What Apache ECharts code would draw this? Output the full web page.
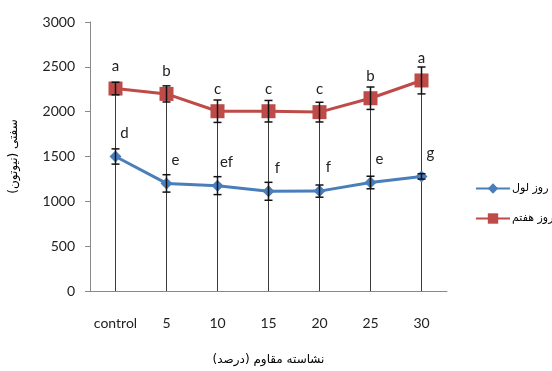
<!DOCTYPE html>
<html>
<head>
<meta charset="utf-8">
<script src="https://cdn.jsdelivr.net/npm/echarts@6/dist/echarts.min.js"></script>
<style>
  html, body { margin: 0; padding: 0; background: #fff; }
  #chart { width: 552px; height: 371px; }
</style>
</head>
<body>
<div id="chart"></div>
<script>
// Starch concentration levels (x axis)
const categories = ['control', '5', '10', '15', '20', '25', '30'];

// Hardness on day 1 (blue) and day 7 (red), with error bar half-widths
const day1Name = 'روز لول';
const day1Values = [1500, 1200, 1175, 1112, 1114, 1210, 1278];
const day1Errors = [85, 97, 100, 100, 68, 70, 30];
const day1Letters = ['d', 'e', 'ef', 'f', 'f', 'e', 'g'];

const day7Name = 'روز هفتم';
const day7Values = [2258, 2198, 2005, 2005, 1995, 2150, 2348];
const day7Errors = [70, 90, 125, 120, 110, 125, 150];
const day7Letters = ['a', 'b', 'c', 'c', 'c', 'b', 'a'];

const yTicks = { min: 0, max: 3000, interval: 500 };

const blue = '#4A7EBB';
const red = '#BE4B48';
const latin = 'Lato, "Liberation Sans", sans-serif';
const persian = '"DejaVu Sans", "Noto Sans", sans-serif';

function errorBarData(values, errors) {
  return values.map((v, i) => [i, v - errors[i], v + errors[i]]);
}

function renderErrorBar(params, api) {
  const x = api.value(0);
  const lo = api.coord([x, api.value(1)]);
  const hi = api.coord([x, api.value(2)]);
  const cap = 4;
  const style = { stroke: '#111', lineWidth: 1.5 };
  return {
    type: 'group',
    children: [
      { type: 'line', shape: { x1: lo[0], y1: lo[1], x2: hi[0], y2: hi[1] }, style },
      { type: 'line', shape: { x1: lo[0] - cap, y1: lo[1], x2: lo[0] + cap, y2: lo[1] }, style },
      { type: 'line', shape: { x1: hi[0] - cap, y1: hi[1], x2: hi[0] + cap, y2: hi[1] }, style }
    ]
  };
}

// Drop lines from each day-7 point down to the category axis
function renderDropLine(params, api) {
  const x = api.value(0);
  const top = api.coord([x, api.value(1)]);
  const bottom = api.coord([x, 0]);
  return {
    type: 'line',
    shape: { x1: top[0], y1: top[1], x2: bottom[0], y2: bottom[1] },
    style: { stroke: '#3a3a3a', lineWidth: 1 }
  };
}

const chart = echarts.init(document.getElementById('chart'), null, { renderer: 'canvas' });

chart.setOption({
  animation: false,
  backgroundColor: '#fff',
  grid: { left: 89, right: 105, top: 22, bottom: 76 },
  legend: {
    orient: 'vertical',
    left: 470,
    top: 178,
    itemWidth: 34,
    itemHeight: 13,
    itemGap: 19,
    textStyle: { fontFamily: persian, fontSize: 11, color: '#000', padding: [0, 0, 0, -3] },
    data: [day1Name, day7Name]
  },
  xAxis: {
    type: 'category',
    data: categories,
    boundaryGap: true,
    name: 'نشاسته مقاوم (درصد)',
    nameLocation: 'middle',
    nameGap: 63,
    nameTextStyle: { fontFamily: persian, fontSize: 12, color: '#000' },
    axisLine: { lineStyle: { color: '#888', width: 1 } },
    axisTick: { show: false },
    axisLabel: { interval: 0, fontFamily: latin, fontSize: 14, color: '#222', margin: 25 }
  },
  yAxis: {
    type: 'value',
    min: yTicks.min,
    max: yTicks.max,
    interval: yTicks.interval,
    name: 'سفتی (نیوتون)',
    nameLocation: 'middle',
    nameGap: 70,
    nameRotate: 90,
    nameTextStyle: { fontFamily: persian, fontSize: 12, color: '#000' },
    axisLine: { show: true, lineStyle: { color: '#888', width: 1 } },
    axisTick: { show: true, length: 5, lineStyle: { color: '#888' } },
    splitLine: { show: false },
    axisLabel: { fontFamily: latin, fontSize: 14, color: '#222', margin: 15, formatter: v => String(v) }
  },
  series: [
    {
      type: 'custom',
      name: 'drop',
      renderItem: renderDropLine,
      data: day7Values.map((v, i) => [i, v]),
      z: 1,
      silent: true
    },
    {
      name: day1Name,
      type: 'line',
      data: day1Values,
      symbol: 'diamond',
      symbolSize: 12,
      lineStyle: { color: blue, width: 3 },
      itemStyle: { color: blue },
      z: 3,
      label: {
        show: true,
        position: 'top',
        distance: 10,
        offset: [9, 0],
        fontFamily: latin,
        fontSize: 15,
        color: '#222',
        formatter: p => day1Letters[p.dataIndex]
      }
    },
    {
      name: day7Name,
      type: 'line',
      data: day7Values,
      symbol: 'rect',
      symbolSize: 14,
      lineStyle: { color: red, width: 3 },
      itemStyle: { color: red },
      z: 3,
      label: {
        show: true,
        position: 'top',
        distance: 8,
        fontFamily: latin,
        fontSize: 15,
        color: '#222',
        formatter: p => day7Letters[p.dataIndex]
      }
    },
    {
      type: 'custom',
      name: 'day1Err',
      renderItem: renderErrorBar,
      data: errorBarData(day1Values, day1Errors),
      z: 5,
      silent: true
    },
    {
      type: 'custom',
      name: 'day7Err',
      renderItem: renderErrorBar,
      data: errorBarData(day7Values, day7Errors),
      z: 5,
      silent: true
    }
  ]
});
</script>
</body>
</html>
